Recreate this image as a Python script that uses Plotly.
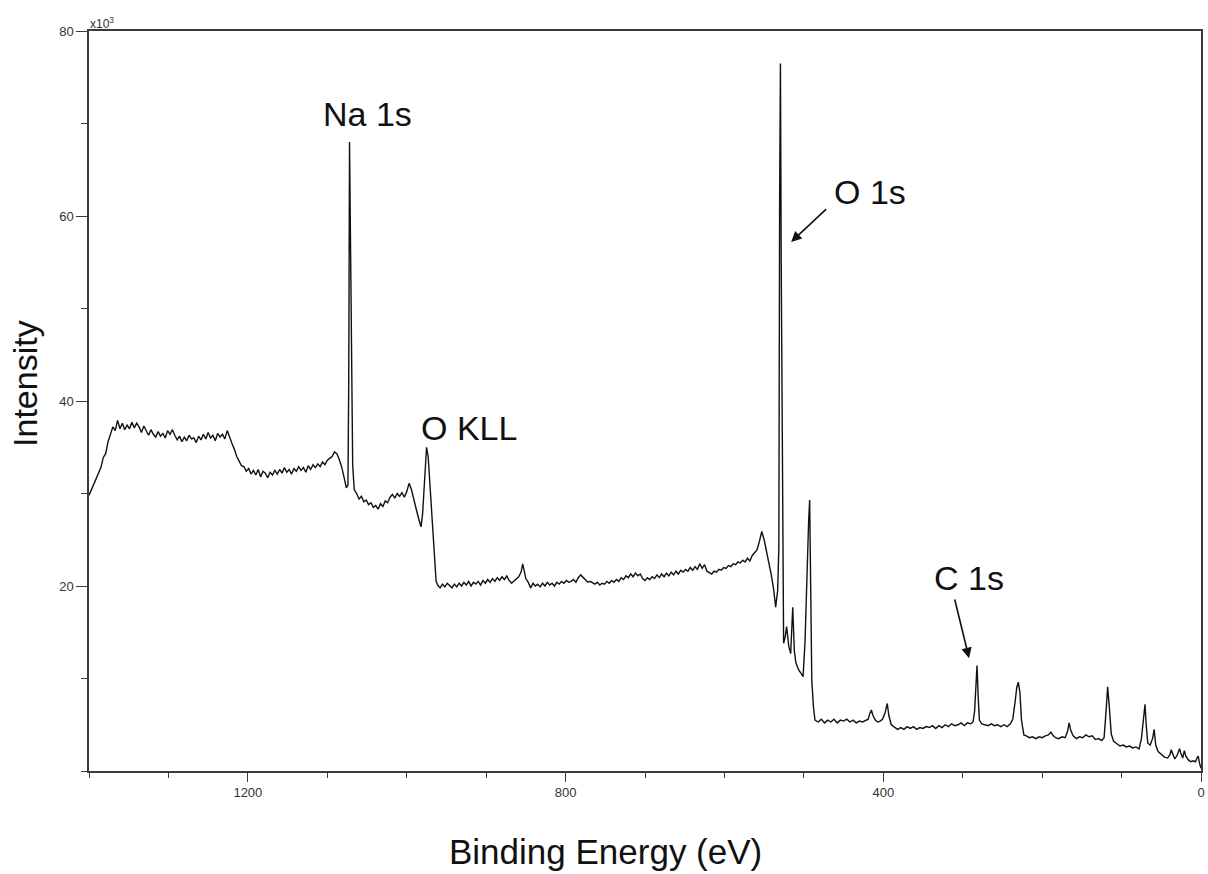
import plotly.graph_objects as go

# ---- data (binding energy in eV, intensity in 10^3 counts) ----
seg_high = [
    (1400, 29.8), (1396, 30.6), (1392, 31.5), (1388, 32.3), (1385, 32.8), (1382, 33.9), (1379, 34.3),
    (1376, 35.6), (1373, 36.4), (1370, 37.2), (1367, 36.8), (1364, 37.9), (1361, 37.0), (1358, 37.6),
    (1355, 36.9), (1352, 37.4), (1349, 37.0), (1346, 37.7), (1343, 37.1), (1340, 37.6), (1337, 37.2),
    (1334, 36.6), (1331, 37.3), (1328, 36.8), (1325, 36.3), (1322, 36.9), (1319, 36.4), (1316, 36.1),
    (1313, 36.7), (1310, 36.2), (1307, 36.5), (1304, 36.0), (1301, 36.8), (1298, 36.4), (1295, 36.9),
    (1292, 36.3), (1289, 35.8), (1286, 36.2), (1283, 35.6), (1280, 36.1), (1277, 35.7), (1274, 36.3),
    (1271, 35.9), (1268, 36.0), (1265, 35.5), (1262, 36.2), (1259, 35.8), (1256, 36.4), (1253, 35.9),
    (1250, 36.6), (1247, 36.0), (1244, 36.3), (1241, 35.7), (1238, 36.5), (1235, 36.1), (1232, 36.4),
    (1229, 35.9), (1226, 36.8), (1223, 36.0), (1220, 35.4), (1217, 34.8), (1214, 34.0), (1211, 33.5),
    (1208, 33.0), (1205, 32.9), (1202, 32.4), (1199, 32.7), (1196, 32.1), (1193, 32.5), (1190, 32.0),
    (1187, 32.6), (1184, 31.8), (1181, 32.4), (1178, 32.2), (1175, 31.7), (1172, 32.3), (1169, 32.0),
    (1166, 32.5), (1163, 32.1), (1160, 32.6), (1157, 32.2), (1154, 32.8), (1151, 32.3), (1148, 32.6),
    (1145, 32.1), (1142, 32.7), (1139, 32.4), (1136, 32.9), (1133, 32.5), (1130, 32.8), (1127, 32.3),
    (1124, 33.0), (1121, 32.6), (1118, 33.1), (1115, 32.8), (1112, 33.2), (1109, 32.9), (1106, 33.4),
    (1103, 33.1), (1100, 33.6), (1097, 33.8), (1094, 34.0), (1091, 34.5), (1088, 34.3), (1085, 33.7),
    (1082, 32.9), (1079, 31.8), (1076, 30.6), (1074, 30.9),
]
seg_na = [
    (1073, 42.0), (1072, 68.0), (1071, 60.0), (1070, 50.0), (1069, 44.0), (1068, 33.0),
    (1066, 30.4), (1063, 30.0), (1060, 29.4), (1057, 29.7), (1054, 29.1), (1051, 29.3), (1048, 28.8),
    (1045, 29.0), (1042, 28.5), (1039, 28.7), (1036, 28.3), (1033, 28.9), (1030, 28.6), (1027, 29.2),
    (1024, 29.0), (1021, 29.6), (1018, 29.9), (1015, 29.5), (1012, 30.0), (1009, 29.7), (1006, 30.1),
    (1003, 29.6), (1000, 30.2), (997, 31.1), (994, 30.4), (991, 29.2), (988, 28.3), (985, 27.3),
]
seg_okll = [
    (982, 26.4), (980, 27.8), (978, 30.7), (976, 33.5), (975, 35.0), (973, 34.0), (971, 31.5),
    (969, 29.0), (967, 26.0), (965, 23.5), (963, 20.5), (961, 20.1), (958, 19.8), (955, 20.2),
    (952, 19.9), (949, 20.3),
]
seg_plateau = [
    (946, 20.1), (943, 19.8), (940, 20.2), (937, 19.9), (934, 20.3), (931, 20.0), (928, 20.4),
    (925, 20.1), (922, 20.5), (919, 20.0), (916, 20.4), (913, 20.2), (910, 20.5), (907, 20.1),
    (904, 20.6), (901, 20.3), (898, 20.7), (895, 20.4), (892, 20.8), (889, 20.5), (886, 20.9),
    (883, 20.6), (880, 21.0), (877, 20.7), (874, 21.1), (871, 20.6), (868, 20.3), (865, 20.5),
    (862, 20.8), (859, 21.0), (856, 21.5), (854, 22.4), (852, 21.6), (850, 20.8), (847, 20.4),
    (844, 19.8), (841, 20.3), (838, 20.0), (835, 20.2), (832, 19.9), (829, 20.3), (826, 20.0),
    (823, 20.4), (820, 20.1), (817, 20.3), (814, 20.0), (811, 20.4), (808, 20.2), (805, 20.5),
    (802, 20.3), (799, 20.6), (796, 20.4), (793, 20.5), (790, 20.7), (787, 20.4), (784, 20.9),
    (781, 21.2), (778, 20.9), (775, 20.6), (772, 20.4), (769, 20.5), (766, 20.3), (763, 20.2),
    (760, 20.4), (757, 20.1), (754, 20.3), (751, 20.2), (748, 20.5), (745, 20.3), (742, 20.6),
    (739, 20.4), (736, 20.7), (733, 20.5), (730, 20.9), (727, 20.7), (724, 21.1), (721, 20.9),
    (718, 21.3), (715, 21.0), (712, 21.4), (709, 21.1), (706, 21.3), (703, 20.8), (700, 20.6),
    (697, 20.9), (694, 20.7), (691, 21.0), (688, 20.8), (685, 21.2), (682, 20.9), (679, 21.3),
    (676, 21.0), (673, 21.4), (670, 21.1), (667, 21.5), (664, 21.2), (661, 21.6), (658, 21.3),
    (655, 21.7), (652, 21.5), (649, 21.8), (646, 21.6), (643, 22.0), (640, 21.7), (637, 22.1),
    (634, 21.8), (631, 22.4), (628, 21.9), (625, 22.3), (622, 21.6), (619, 21.4), (616, 21.3),
    (613, 21.6), (610, 21.5), (607, 21.8), (604, 21.7), (601, 22.0), (598, 21.9), (595, 22.2),
    (592, 22.1), (589, 22.4), (586, 22.3), (583, 22.6), (580, 22.5), (577, 22.8), (574, 22.6),
    (571, 23.0), (568, 22.7), (565, 23.3), (562, 23.6), (559, 23.9), (556, 24.8), (553, 25.9),
    (550, 25.0), (547, 23.8), (544, 22.5), (541, 21.2), (538, 19.6), (535.5, 17.7), (533, 19.5),
]
seg_o1s = [
    (531.5, 24.2), (530.5, 62.0), (529.5, 76.5), (528.5, 55.0), (527, 30.0), (525.5, 13.8),
    (523.5, 14.5), (521.7, 15.6), (519, 13.5), (516.6, 12.7), (514, 17.7), (512, 13.0), (510, 11.7),
    (507, 11.0), (504, 10.6), (501, 10.2), (498.5, 14.0), (496.5, 20.6), (494, 27.0), (492.7, 29.3),
    (491.5, 20.0), (490, 9.8), (488, 7.0),
]
seg_low = [
    (486, 5.5), (482, 5.3), (478, 5.6), (474, 5.2), (470, 5.5), (466, 5.3), (462, 5.6), (458, 5.2),
    (454, 5.5), (450, 5.4), (446, 5.6), (442, 5.3), (438, 5.5), (434, 5.2), (430, 5.4), (426, 5.3),
    (422, 5.5), (419, 5.6), (417, 6.2), (415, 6.6), (413, 6.0), (410, 5.5), (407, 5.3), (404, 5.4),
    (401, 5.6), (398, 6.2), (395, 7.3), (393, 6.0), (390, 5.0), (386, 4.7), (382, 4.5), (378, 4.7),
    (374, 4.5), (370, 4.8), (366, 4.6), (362, 4.8), (358, 4.5), (354, 4.7), (350, 4.6), (346, 4.8),
    (342, 4.7), (338, 4.9), (334, 4.6), (330, 4.9), (326, 4.7), (322, 5.0), (318, 4.8), (314, 5.1),
    (310, 4.9), (306, 5.0), (302, 5.2), (298, 4.9), (294, 5.2), (290, 5.1), (287, 5.3), (285, 6.5),
    (283.5, 9.0), (282, 11.4), (280.5, 8.0), (279, 5.5), (276, 5.1), (272, 5.0), (268, 4.9),
    (264, 5.1), (260, 4.9), (256, 5.0), (252, 4.8), (248, 5.0), (244, 4.8), (240, 5.1), (237, 5.6),
    (234, 7.5), (232, 9.0), (230, 9.6), (228, 8.5), (226, 5.5), (223, 3.9), (220, 3.8), (216, 3.6),
    (212, 3.7), (208, 3.5), (204, 3.7), (200, 3.6), (196, 3.8), (192, 3.9), (189, 4.2), (186, 3.8),
    (183, 3.6), (179, 3.5), (175, 3.7), (171, 3.6), (168, 4.3), (166, 5.2), (164, 4.4), (161, 3.8),
    (157, 3.5), (153, 3.7), (149, 3.6), (145, 3.9), (141, 3.7), (137, 3.8), (133, 3.4), (129, 3.5),
    (125, 3.3), (122, 3.6), (119.5, 6.5), (117.5, 9.1), (115.5, 7.0), (113, 4.0), (110, 3.2),
    (106, 2.9), (102, 2.7), (98, 2.8), (94, 2.6), (90, 2.7), (86, 2.5), (82, 2.6), (78, 2.4),
    (75, 3.5), (72, 6.0), (70.5, 7.2), (69, 5.0), (67, 3.0), (64, 2.8), (61, 3.5), (59, 4.5),
    (57, 2.8), (54, 2.1), (50, 1.8), (46, 1.5), (42, 1.4), (39, 1.8), (37.5, 2.3), (35, 1.6),
    (33, 1.3), (30, 1.7), (27, 2.4), (25, 1.8), (23, 1.4), (21, 2.2), (19, 1.6), (16, 1.2),
    (13, 1.0), (10, 1.1), (7, 1.0), (5, 1.4), (3.5, 1.6), (2, 0.9), (0, 0.3),
]

peak_labels = ["Na 1s", "O KLL", "O 1s", "C 1s"]
x_title = "Binding Energy (eV)"
y_title = "Intensity"

spectrum = seg_high + seg_na + seg_okll + seg_plateau + seg_o1s + seg_low
binding_energy = [p[0] for p in spectrum]
intensity = [p[1] for p in spectrum]

FONT = "Liberation Sans, Arial, sans-serif"
AX = "#3a3a3a"

fig = go.Figure()
fig.add_trace(go.Scatter(x=binding_energy, y=intensity, mode="lines",
                         line=dict(color="#111111", width=1.4), showlegend=False,
                         hoverinfo="skip"))

axis_common = dict(showline=True, linecolor=AX, linewidth=1.5, mirror=True,
                   showgrid=False, zeroline=False, ticks="outside", tickcolor=AX,
                   tickwidth=1.2, tickfont=dict(family=FONT, size=13, color="#333333"))

fig.update_xaxes(range=[1400, 0], tickmode="linear", tick0=0, dtick=400, ticklen=9,
                 minor=dict(dtick=100, ticklen=5, ticks="outside", tickcolor=AX, tickwidth=1.2),
                 **axis_common)
fig.update_yaxes(range=[0, 80], tickmode="array", tickvals=[20, 40, 60, 80], ticklen=11,
                 minor=dict(tickmode="linear", tick0=0, dtick=10, ticklen=6, ticks="outside",
                            tickcolor=AX, tickwidth=1.2),
                 **axis_common)

lab_font = dict(family=FONT, size=34, color="#111111")
# peak labels
fig.add_annotation(x=1049, y=71.0, text=peak_labels[0], showarrow=False, font=lab_font)
fig.add_annotation(x=922, y=37.1, text=peak_labels[1], showarrow=False, font=lab_font)
fig.add_annotation(x=417, y=62.6, text=peak_labels[2], showarrow=False, font=lab_font)
fig.add_annotation(x=292, y=20.9, text=peak_labels[3], showarrow=False, font=lab_font)
# arrows
fig.add_annotation(x=516, y=57.2, ax=470, ay=60.9, xref="x", yref="y", axref="x", ayref="y",
                   text="", showarrow=True, arrowhead=2, arrowsize=1.3, arrowwidth=1.6,
                   arrowcolor="#111111")
fig.add_annotation(x=292, y=12.2, ax=310.5, ay=18.7, xref="x", yref="y", axref="x", ayref="y",
                   text="", showarrow=True, arrowhead=2, arrowsize=1.3, arrowwidth=1.6,
                   arrowcolor="#111111")

# multiplier
fig.add_annotation(xref="paper", yref="paper", x=0, y=1, xanchor="left", yanchor="bottom",
                   xshift=-1, yshift=-2, text="x10<sup>3</sup>", showarrow=False,
                   font=dict(family=FONT, size=12, color="#333333"))
# axis titles
fig.add_annotation(xref="paper", yref="paper", x=0.4646, y=0, yanchor="middle",
                   yshift=-80, text=x_title, showarrow=False,
                   font=dict(family=FONT, size=35, color="#111111"))
fig.add_annotation(xref="paper", yref="paper", x=0, y=0.523, xanchor="center",
                   xshift=-64, textangle=-90, text=y_title, showarrow=False,
                   font=dict(family=FONT, size=34, color="#111111"))

fig.update_layout(width=1208, height=874, margin=dict(l=89, r=3, t=31, b=103),
                  paper_bgcolor="white", plot_bgcolor="white", hovermode=False)

# remove the default page margin so the figure fills the 1208x874 window without scrollbars
fig.write_html("out.html", config={"displayModeBar": False}, post_script=(
    "document.body.style.margin='0';"
    "document.documentElement.style.overflow='hidden';"
    "document.body.style.overflow='hidden';"))
